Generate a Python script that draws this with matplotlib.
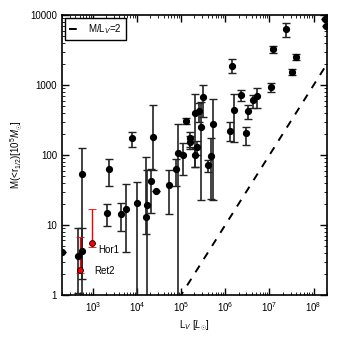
import matplotlib
matplotlib.use('Agg')
import matplotlib.pyplot as plt
import matplotlib.ticker as mticker
import numpy as np

plt.rcParams['font.family'] = ['Liberation Sans', 'DejaVu Sans']
plt.rcParams['mathtext.fontset'] = 'custom'
plt.rcParams['mathtext.rm'] = 'Liberation Sans'
plt.rcParams['mathtext.it'] = 'Liberation Sans:italic'

# luminosity (Lsun), mass within r_1/2 (1e5 Msun), lower / upper bound
LumV = [195, 456, 562, 571, 2275, 2080, 4330, 5710, 9840, 15700,
        17100, 20500, 27500, 7590, 23100, 53300, 75700, 84100, 111000, 132000,
        157000, 160000, 208000, 208000, 256000, 275000, 231000, 305000, 396000, 472000,
        534000, 1.3e6, 1.6e6, 1.42e6, 2.27e6, 2.95e6, 3.34e6, 4.33e6, 5.25e6, 1.09e7,
        1.19e7, 2.31e7, 3.28e7, 4.05e7, 1.8e8, 1.9e8]
Mhalf = [4.1, 3.64, 52.8, 4.3, 62.9, 15.0, 14.5, 16.9, 20.9, 12.9,
         19.1, 42.3, 30.6, 174, 183, 37.5, 62.3, 106, 99, 308,
         174, 155, 398, 100, 420, 255, 129, 676, 71.8, 96.8,
         277, 224, 444, 1900, 713, 205, 420, 604, 706, 942,
         3242, 6290, 1549, 2546, 8700, 7000]
Mlow = [4.1, 1.05, 0.5, 1.7, 36.2, 9.8, 8.1, 4.1, 0.5, 7.5,
        0.5, 14.8, 30.6, 129, 62, 14.5, 36, 0.5, 51.6, 277,
        130, 120, 66.5, 66.5, 300, 23, 100, 354, 57.5, 23.8,
        23, 161, 155, 1499, 585, 139, 325, 469, 469, 790,
        2900, 4800, 1372, 2300, 8700, 7000]
Mhigh = [4.1, 8.9, 126, 9.0, 87.6, 20.2, 20.6, 37.9, 41.3, 94,
         62, 62.3, 30.6, 216, 512, 60.8, 87.6, 277, 147, 339,
         212, 190, 755, 125, 560, 566, 160, 1017, 84.9, 174,
         640, 295, 745, 2383, 864, 255, 525, 733, 910, 1075,
         3600, 7700, 1717, 2760, 8700, 7000]

# the two highlighted systems
red_names = ['Ret2', 'Hor1']
red_L = [507, 963]
red_M = [2.29, 5.47]
red_low = [2.05, 4.86]
red_high = [6.7, 17.1]
label_L = [1050, 1320]
label_M = [2.16, 4.4]

xticks = [1e3, 1e4, 1e5, 1e6, 1e7, 1e8]
yticks = [1, 10, 100, 1000, 10000]

LumV = np.array(LumV); Mhalf = np.array(Mhalf)
yerr = [Mhalf - np.array(Mlow), np.array(Mhigh) - Mhalf]
red_M = np.array(red_M)
red_err = [red_M - np.array(red_low), np.array(red_high) - red_M]

fig = plt.figure(figsize=(3.37, 3.37), dpi=100)
ax = fig.add_axes([0.184, 0.125, 0.786, 0.830])

# M/L_V = 2 line
Lline = np.logspace(2, 9, 50)
ax.plot(Lline, Lline / 1e5, 'k--', lw=1.4, dashes=(4, 4), label='M/L$_V$=2')

ax.errorbar(LumV, Mhalf, yerr=yerr, fmt='o', color='k', ms=4.2, lw=1.2,
            capsize=3.2, capthick=1.0, ecolor='#222222')
ax.errorbar(red_L, red_M, yerr=red_err, fmt='o', mfc='red', mec='k', mew=0.6,
            ms=4.2, ecolor='red', lw=1.0, capsize=3.2, capthick=0.8)

for nm, lx, ly in zip(red_names, label_L, label_M):
    ax.text(lx, ly, nm, fontsize=7, va='center', ha='left')

ax.set_xscale('log')
ax.set_yscale('log')
ax.set_xlim(200, 2e8)
ax.set_ylim(1, 10000)
ax.set_xticks(xticks)
ax.set_yticks(yticks)
ax.yaxis.set_major_formatter(mticker.FuncFormatter(lambda v, p: '%d' % v))
ax.xaxis.set_minor_formatter(mticker.NullFormatter())
ax.yaxis.set_minor_formatter(mticker.NullFormatter())
ax.tick_params(which='both', direction='in', top=True, right=True, labelsize=7)
ax.tick_params(which='major', length=5, width=1.0)
ax.tick_params(which='minor', length=2.5, width=0.6)
for s in ax.spines.values():
    s.set_linewidth(1.2)

ax.set_xlabel(r'L$_V$ [$L_{\odot}$]', fontsize=7)
ax.set_ylabel(r'M(<r$_{1/2}$)[10$^5M_{\odot}$]', fontsize=7)

leg = ax.legend(loc='upper left', fontsize=7, handlelength=1.2, borderaxespad=0.3,
                fancybox=False, framealpha=1)
leg.get_frame().set_edgecolor('k')
leg.get_frame().set_linewidth(1.0)

fig.savefig('out.png', dpi=100)
